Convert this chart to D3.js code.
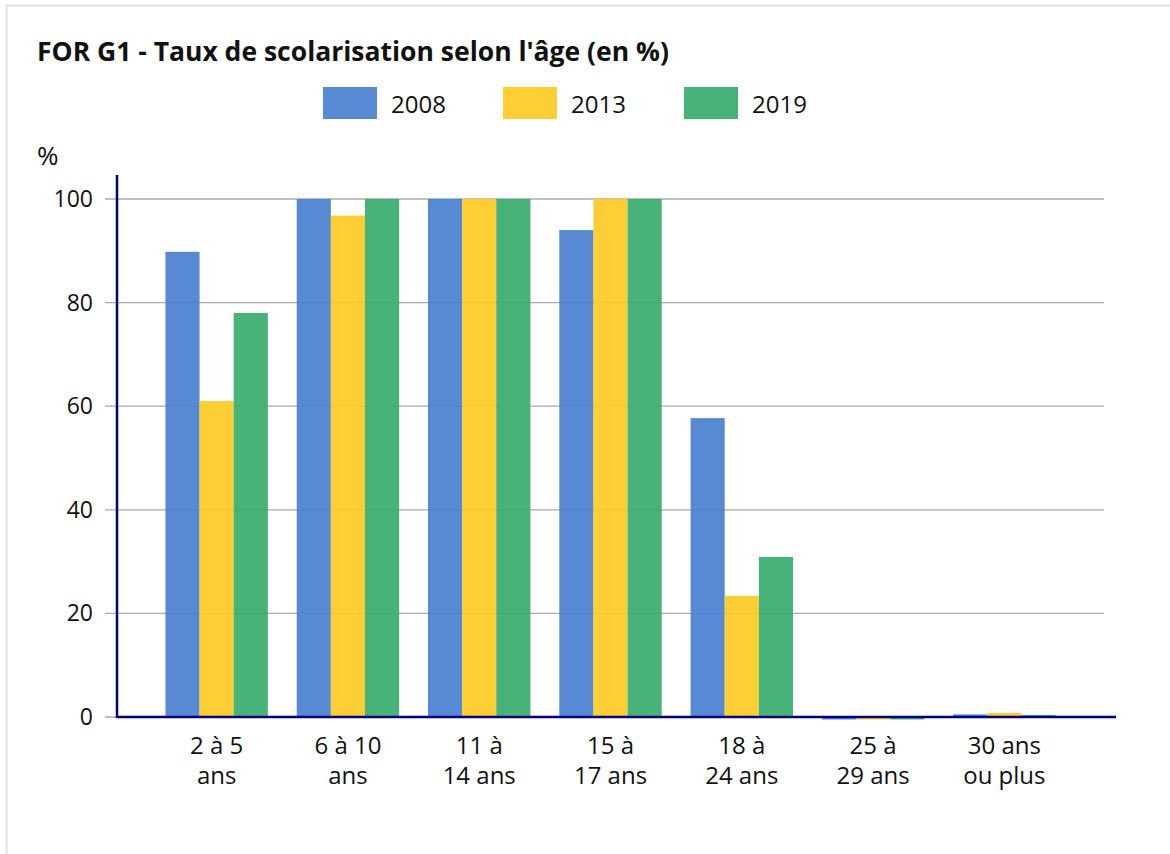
<!DOCTYPE html>
<html lang="fr">
<head>
    <meta charset="UTF-8">
    <title>FOR G1</title>
    <script src="https://d3js.org/d3.v7.min.js"></script>
    <style>
        body { margin: 0; background: #fff; }
        svg { display: block; font-family: "Open Sans", "Noto Sans", sans-serif; }
    </style>
</head>
<body>
    <svg id="chart" width="1170" height="854"></svg>
    <script>
        // data
        var categories = ['2 à 5\nans', '6 à 10\nans', '11 à\n14 ans', '15 à\n17 ans', '18 à\n24 ans', '25 à\n29 ans', '30 ans\nou plus'];
        var series = ['2008', '2013', '2019'];
        var v2008 = [89.8, 100, 100, 94.0, 57.7, -0.3, 0.5];
        var v2013 = [61.0, 96.8, 100, 100, 23.4, -0.3, 0.8];
        var v2019 = [78.0, 100, 100, 100, 30.9, -0.3, 0.4];
        var yTicks = [0, 20, 40, 60, 80, 100];
        var colors = ['#4a80d0', '#fecb23', '#37ad6c'];

        var values = [v2008, v2013, v2019];
        var svg = d3.select('#chart');

        // outer frame
        svg.append('rect')
            .attr('x', 6.5).attr('y', 5.5)
            .attr('width', 1200).attr('height', 900)
            .attr('fill', 'none')
            .attr('stroke', '#e2e2e2')
            .attr('stroke-width', 2);

        svg.append('text')
            .attr('x', 37).attr('y', 61)
            .style('font-size', '26.5px')
            .style('font-weight', 'bold')
            .attr('fill', '#111')
            .text("FOR G1 - Taux de scolarisation selon l'âge (en %)");

        // legend
        var legendX = [323, 503, 684];
        var legend = svg.append('g');
        series.forEach(function (s, i) {
            legend.append('rect')
                .attr('x', legendX[i]).attr('y', 87)
                .attr('width', 54).attr('height', 32)
                .attr('fill', colors[i]).attr('fill-opacity', 0.92);
            legend.append('text')
                .attr('x', legendX[i] + 68).attr('y', 113)
                .style('font-size', '24px')
                .attr('fill', '#111')
                .text(s);
        });

        var y = d3.scaleLinear().domain([0, 100]).range([717, 199]);
        var x0 = d3.scaleBand().domain(categories).range([151, 1070])
            .paddingInner(0.22).paddingOuter(0.11);
        var x1 = d3.scaleBand().domain(series).range([0, x0.bandwidth()]);

        // grid + ticks
        var grid = svg.append('g');
        grid.selectAll('line').data(yTicks).enter().append('line')
            .attr('x1', 105).attr('x2', 1104)
            .attr('y1', function (d) { return y(d); })
            .attr('y2', function (d) { return y(d); })
            .attr('stroke', '#aaa').attr('stroke-width', 1.3);
        grid.selectAll('text').data(yTicks).enter().append('text')
            .attr('x', 93)
            .attr('y', function (d) { return y(d) + 8; })
            .attr('text-anchor', 'end')
            .style('font-size', '23px')
            .attr('fill', '#111')
            .text(function (d) { return d; });

        svg.append('text')
            .attr('x', 37).attr('y', 165)
            .style('font-size', '26px')
            .attr('fill', '#111')
            .text('%');

        // bars
        var groups = svg.append('g').selectAll('g').data(categories).enter().append('g')
            .attr('transform', function (d) { return 'translate(' + x0(d) + ',0)'; });
        groups.selectAll('rect')
            .data(function (d, ci) { return series.map(function (s, si) { return { s: s, v: values[si][ci], i: si }; }); })
            .enter().append('rect')
            .attr('x', function (d) { return x1(d.s); })
            .attr('width', x1.bandwidth())
            .attr('y', function (d) { return d.v >= 0 ? y(d.v) : y(0) + 0.5; })
            .attr('height', function (d) { return d.v >= 0 ? y(0) - y(d.v) : Math.max(2, y(d.v) - y(0)); })
            .attr('fill', function (d) { return colors[d.i]; })
            .attr('fill-opacity', 0.92);

        // axes lines
        svg.append('line')
            .attr('x1', 117).attr('x2', 117)
            .attr('y1', 175).attr('y2', 718)
            .attr('stroke', '#00007f').attr('stroke-width', 2.5);
        svg.append('line')
            .attr('x1', 117).attr('x2', 1116)
            .attr('y1', y(0)).attr('y2', y(0))
            .attr('stroke', '#00007f').attr('stroke-width', 2.5);

        // category labels
        var labels = svg.append('g').selectAll('text').data(categories).enter().append('text')
            .attr('x', function (d) { return x0(d) + x0.bandwidth() / 2; })
            .attr('y', 754)
            .attr('text-anchor', 'middle')
            .style('font-size', '24px')
            .attr('fill', '#111');
        labels.selectAll('tspan')
            .data(function (d) { return d.split('\n'); })
            .enter().append('tspan')
            .attr('x', function () { return d3.select(this.parentNode).attr('x'); })
            .attr('dy', function (d, i) { return i ? 30 : 0; })
            .text(function (d) { return d; });
    </script>
</body>
</html>
